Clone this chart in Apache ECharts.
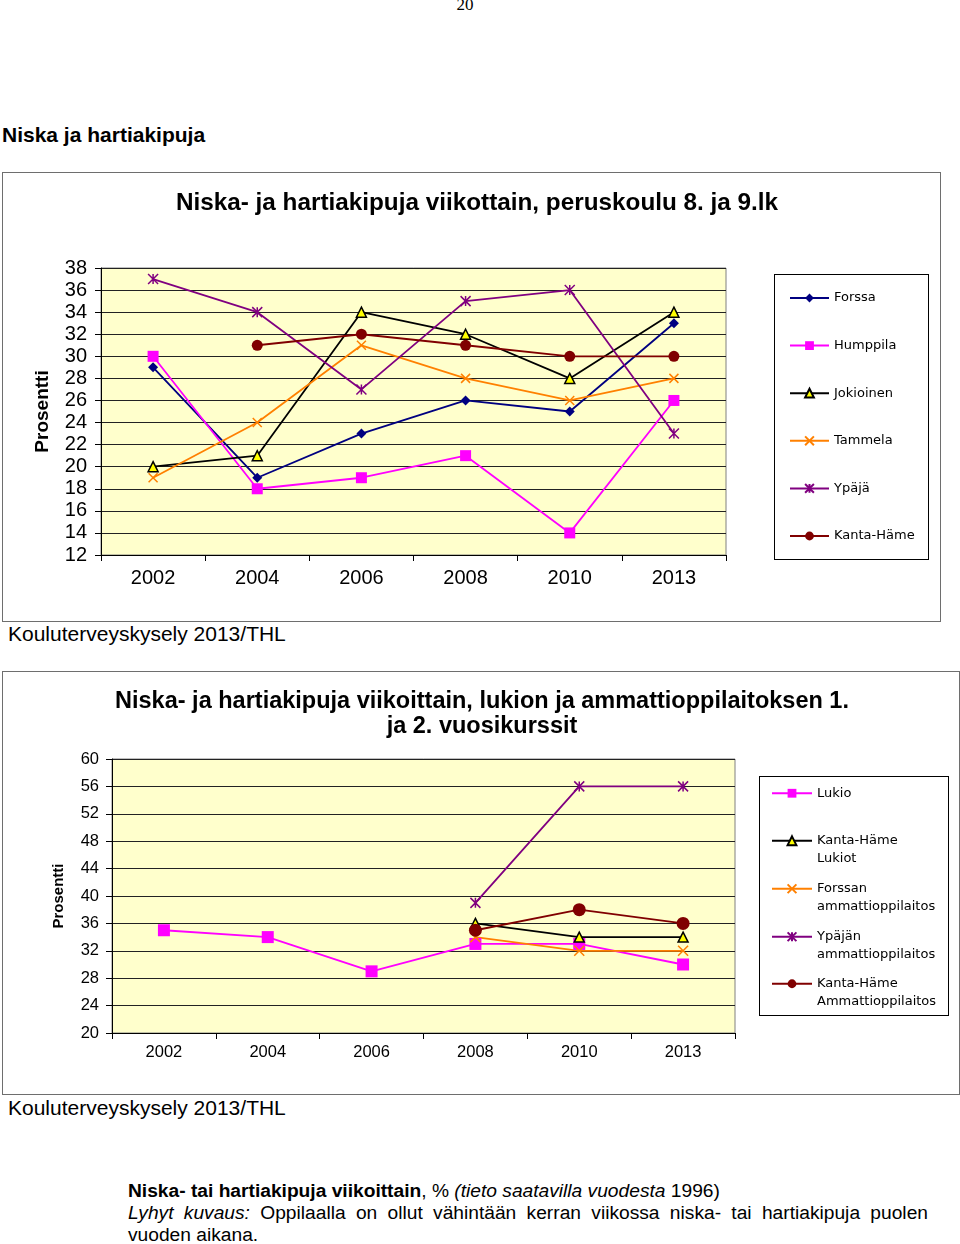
<!DOCTYPE html>
<html>
<head>
<meta charset="utf-8">
<script src="https://cdn.jsdelivr.net/npm/echarts/dist/echarts.min.js"></script>
<style>
  html, body { margin: 0; padding: 0; background: #fff; }
  #page { position: relative; width: 960px; height: 1244px; overflow: hidden; background: #fff; }
  .abs { position: absolute; white-space: nowrap; }
  .box { position: absolute; border: 1px solid #6e6e6e; box-sizing: border-box; }
  .lbox { position: absolute; border: 1px solid #000; box-sizing: border-box; background: #fff; }
  #chart { position: absolute; left: 0; top: 0; width: 960px; height: 1244px; z-index: 2; }
  .sans { font-family: 'Liberation Sans', Arial, sans-serif; color: #000; }
  #desc { position: absolute; left: 128px; top: 1180px; width: 800px; font-family: 'Liberation Sans Narrow', 'Arial Narrow', 'Liberation Sans', sans-serif; font-size: 19.2px; line-height: 22px; color: #000; text-align: justify; text-align-last: left; }
</style>
</head>
<body>
<div id="page">
  <div class="abs" style="left:0;width:930px;text-align:center;top:-5px;font-family:'Liberation Serif','Times New Roman',serif;font-size:17px;">20</div>
  <div class="abs sans" style="left:2px;top:123px;font-size:21px;line-height:24px;font-weight:bold;">Niska ja hartiakipuja</div>
  <div class="box" style="left:2px;top:172px;width:939px;height:450px;"></div>
  <div class="lbox" style="left:774px;top:274px;width:155px;height:286px;"></div>
  <div class="abs sans" style="left:8px;top:622px;font-size:21px;line-height:24px;">Kouluterveyskysely 2013/THL</div>
  <div class="box" style="left:2px;top:671px;width:958px;height:424px;"></div>
  <div class="lbox" style="left:759px;top:776px;width:190px;height:240px;"></div>
  <div class="abs sans" style="left:8px;top:1096px;font-size:21px;line-height:24px;">Kouluterveyskysely 2013/THL</div>
  <div id="desc"><b>Niska- tai hartiakipuja viikoittain</b>, % <i>(tieto saatavilla vuodesta</i> 1996)<br><i>Lyhyt kuvaus:</i> Oppilaalla on ollut vähintään kerran viikossa niska- tai hartiakipuja puolen vuoden aikana.</div>
  <div id="chart"></div>
</div>
<script>
// ---- data ----
const years = ['2002', '2004', '2006', '2008', '2010', '2013'];

// Chart 1: peruskoulu 8. ja 9.lk
const forssa     = [29, 19, 23, 26, 25, 33];
const humppila   = [30, 18, 19, 21, 14, 26];
const jokioinen  = [20, 21, 34, 32, 28, 34];
const tammela    = [19, 24, 31, 28, 26, 28];
const ypaja      = [37, 34, 27, 35, 36, 23];
const kantaHame  = [null, 31, 32, 31, 30, 30];

// Chart 2: lukio ja ammattioppilaitos
const lukio      = [35, 34, 29, 33, 33, 30];
const khLukiot   = [null, null, null, 36, 34, 34];
const forssanAmm = [null, null, null, 34, 32, 32];
const ypajanAmm  = [null, null, null, 39, 56, 56];
const khAmm      = [null, null, null, 35, 38, 36];

const names1 = ['Forssa', 'Humppila', 'Jokioinen', 'Tammela', 'Ypäjä', 'Kanta-Häme'];
const names2 = ['Lukio', 'Kanta-Häme Lukiot', 'Forssan ammattioppilaitos', 'Ypäjän ammattioppilaitos', 'Kanta-Häme Ammattioppilaitos'];
const legendLabels2 = {
  'Lukio': 'Lukio',
  'Kanta-Häme Lukiot': '\nKanta-Häme\nLukiot',
  'Forssan ammattioppilaitos': '\nForssan\nammattioppilaitos',
  'Ypäjän ammattioppilaitos': '\nYpäjän\nammattioppilaitos',
  'Kanta-Häme Ammattioppilaitos': '\nKanta-Häme\nAmmattioppilaitos'
};
const title1 = 'Niska- ja hartiakipuja viikottain, peruskoulu 8. ja 9.lk';
const title2a = 'Niska- ja hartiakipuja viikoittain, lukion ja ammattioppilaitoksen 1.';
const title2b = 'ja 2. vuosikurssit';
const yName = 'Prosentti';

// ---- styles ----
const SANS = 'Liberation Sans';
const XSYM = 'path://M0 0L10 10M10 0L0 10';
const ASTER = 'path://M0 0L10 10M10 0L0 10M5 0L5 10';

const styles = {
  navy:   { symbol: 'diamond', size: 10, color: '#000080', fill: '#000080', border: '#000080', bw: 0 },
  pink:   { symbol: 'rect', size: 11, color: '#FF00FF', fill: '#FF00FF', border: '#FF00FF', bw: 0 },
  black:  { symbol: 'triangle', size: 10, color: '#000000', fill: '#FFFF00', border: '#000000', bw: 1.5 },
  orange: { symbol: XSYM, size: 9, color: '#FF8000', fill: '#FF8000', border: '#FF8000', bw: 1.5 },
  purple: { symbol: ASTER, size: 10, color: '#800080', fill: '#800080', border: '#800080', bw: 1.5 },
  maroon: { symbol: 'circle', size: 11, color: '#800000', fill: '#800000', border: '#800000', bw: 0 }
};

function mkSeries(name, data, st, idx, sizeOverride) {
  return {
    name: name, type: 'line', data: data,
    xAxisIndex: idx, yAxisIndex: idx,
    symbol: st.symbol, symbolSize: sizeOverride || st.size,
    showAllSymbol: true,
    lineStyle: { color: st.color, width: 1.8 },
    itemStyle: { color: st.fill, borderColor: st.border, borderWidth: st.bw },
    emphasis: { disabled: true },
    z: 3
  };
}

const series = [
  mkSeries('Forssa', forssa, styles.navy, 0),
  mkSeries('Humppila', humppila, styles.pink, 0),
  mkSeries('Jokioinen', jokioinen, styles.black, 0),
  mkSeries('Tammela', tammela, styles.orange, 0),
  mkSeries('Ypäjä', ypaja, styles.purple, 0),
  mkSeries('Kanta-Häme', kantaHame, styles.maroon, 0),
  mkSeries('Lukio', lukio, styles.pink, 1, 12),
  mkSeries('Kanta-Häme Lukiot', khLukiot, styles.black, 1, 10),
  mkSeries('Forssan ammattioppilaitos', forssanAmm, styles.orange, 1, 10),
  mkSeries('Ypäjän ammattioppilaitos', ypajanAmm, styles.purple, 1, 10),
  mkSeries('Kanta-Häme Ammattioppilaitos', khAmm, styles.maroon, 1, 13)
];

function mkX(idx, fs, margin) {
  return {
    gridIndex: idx, type: 'category', data: years, boundaryGap: true,
    axisLine: { show: true, lineStyle: { color: '#000', width: 1 } },
    axisTick: { show: true, length: 6, lineStyle: { color: '#000', width: 1 } },
    axisLabel: { fontSize: fs, color: '#000', margin: margin, fontFamily: SANS },
    splitLine: { show: false }
  };
}
function mkY(idx, min, max, interval, fs, margin, nameFs, nameGap) {
  return {
    gridIndex: idx, type: 'value', min: min, max: max, interval: interval,
    axisLine: { show: true, lineStyle: { color: '#000', width: 1 } },
    axisTick: { show: true, length: 6, lineStyle: { color: '#000', width: 1 } },
    axisLabel: { fontSize: fs, color: '#000', margin: margin, fontFamily: SANS },
    splitLine: { show: true, lineStyle: { color: '#222', width: 1.2 } },
    name: yName, nameLocation: 'middle', nameRotate: 90, nameGap: nameGap,
    nameTextStyle: { fontSize: nameFs, fontWeight: 'bold', color: '#000', fontFamily: SANS }
  };
}

const legends = [{
  orient: 'vertical', left: 789, top: 291.5, padding: 0,
  itemWidth: 39, itemHeight: 11, itemGap: 34.6,
  selectedMode: false,
  textStyle: { fontFamily: 'DejaVu Sans', fontSize: 13, color: '#000', lineHeight: 11 },
  data: names1
}];
const legendTops2 = [784.5, 814.5, 862.5, 910.5, 957.5];
names2.forEach(function (n, i) {
  legends.push({
    orient: 'vertical', left: 771, top: legendTops2[i], padding: 0,
    itemWidth: 40, itemHeight: 11, selectedMode: false,
    textStyle: { fontFamily: 'DejaVu Sans', fontSize: 13, color: '#000', lineHeight: 17.5 },
    formatter: function (name) { return legendLabels2[name]; },
    data: [n]
  });
});

const option = {
  animation: false,
  backgroundColor: 'transparent',
  title: [
    { text: title1, left: 477, top: 191, textAlign: 'center', padding: 0,
      textStyle: { fontFamily: SANS, fontWeight: 'bold', fontSize: 24.3, color: '#000' } },
    { text: title2a, left: 482, top: 690, textAlign: 'center', padding: 0,
      textStyle: { fontFamily: SANS, fontWeight: 'bold', fontSize: 23.5, color: '#000' } },
    { text: title2b, left: 482, top: 715, textAlign: 'center', padding: 0,
      textStyle: { fontFamily: SANS, fontWeight: 'bold', fontSize: 23.5, color: '#000' } }
  ],
  legend: legends,
  grid: [
    { left: 101, top: 268, width: 625, height: 287, show: true, backgroundColor: '#FFFFCC', borderColor: '#808080', borderWidth: 1 },
    { left: 112, top: 759, width: 623, height: 274, show: true, backgroundColor: '#FFFFCC', borderColor: '#808080', borderWidth: 1 }
  ],
  xAxis: [ mkX(0, 20, 13), mkX(1, 16.5, 11) ],
  yAxis: [ mkY(0, 12, 38, 2, 20, 14, 19, 49), mkY(1, 20, 60, 4, 16.5, 13, 15, 46) ],
  series: series
};

const chart = echarts.init(document.getElementById('chart'), null, { renderer: 'canvas' });
chart.setOption(option);
</script>
</body>
</html>
